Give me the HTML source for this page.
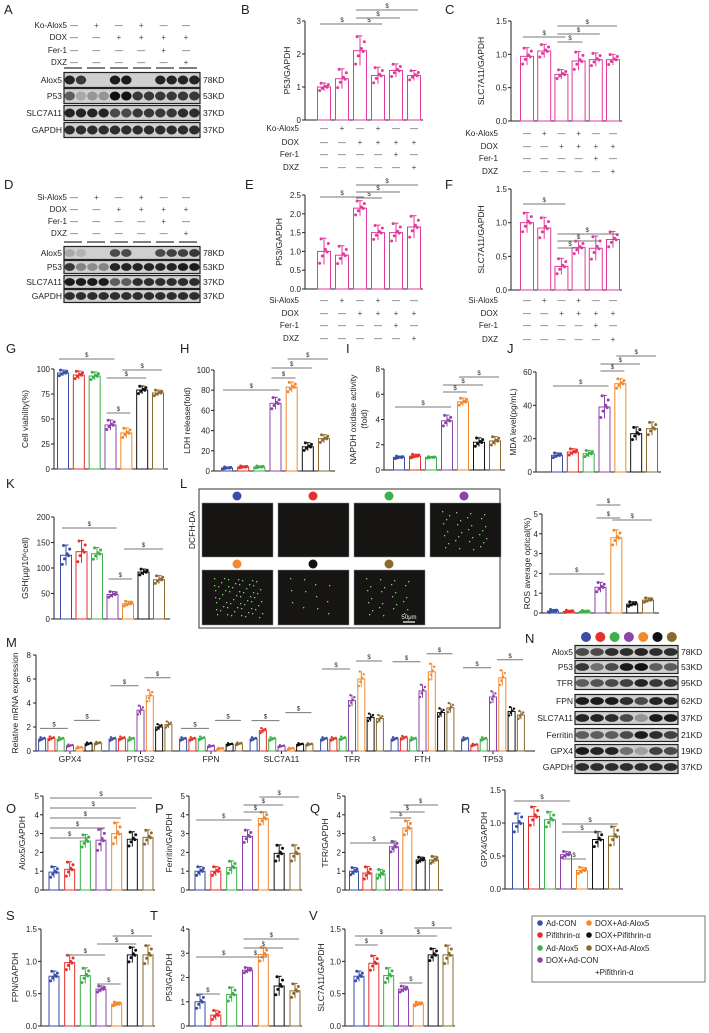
<!DOCTYPE html>
<html><head><meta charset="utf-8">
<style>
html,body{margin:0;padding:0;background:#fff;}
svg{display:block;font-family:"Liberation Sans",sans-serif;}
</style></head>
<body>
<svg id="fig" width="709" height="1033" viewBox="0 0 709 1033"></svg>
<script>
// ---- data ----
const groups7 = ["Ad-CON","Pifithrin-α","Ad-Alox5","DOX+Ad-CON","DOX+Ad-Alox5","DOX+Pifithrin-α","DOX+Ad-Alox5 +Pifithrin-α"];
const bVals = [1.0,1.25,2.1,1.35,1.5,1.35];
const bErrs = [0.12,0.3,0.45,0.25,0.2,0.15];
const cVals = [0.97,1.05,0.7,0.9,0.92,0.92];
const cErrs = [0.13,0.1,0.07,0.14,0.1,0.08];
const eVals = [1.0,0.9,2.15,1.5,1.5,1.65];
const eErrs = [0.35,0.25,0.2,0.2,0.25,0.3];
const fVals = [1.0,0.92,0.35,0.63,0.62,0.75];
const fErrs = [0.15,0.16,0.12,0.1,0.18,0.12];
const gVals = [96,94,93,44,36,79,76];
const gErrs = [3,4,4,5,5,4,3];
const hVals = [3,4,4,67,83,24,32];
const hErrs = [1,1,1,6,5,4,4];
const iVals = [1.0,1.1,1.0,3.9,5.4,2.2,2.3];
const iErrs = [0.1,0.15,0.05,0.45,0.3,0.35,0.35];
const jVals = [10,12,11,39,53,23,26];
const jErrs = [1.5,2,2,7,3,4,4];
const kVals = [125,132,128,48,30,92,77];
const kErrs = [20,22,12,6,5,6,8];
const rosVals = [0.1,0.08,0.08,1.3,3.8,0.45,0.65];
const rosErrs = [0.08,0.06,0.05,0.25,0.4,0.12,0.12];
const mCats = ["GPX4","PTGS2","FPN","SLC7A11","TFR","FTH","TP53"];
const mVals = [
 [1,1.05,1,0.45,0.28,0.6,0.65],
 [1,1.05,1,3.4,4.6,2.0,2.2],
 [1,1,1.05,0.4,0.2,0.55,0.6],
 [1,1.7,1,0.4,0.2,0.55,0.55],
 [1,1,1.05,4.2,6.0,2.8,2.7],
 [1,1.1,1,5.0,6.6,3.2,3.6],
 [1,0.5,1,4.5,6.1,3.3,3.0]];
const oVals = [0.95,1.1,2.6,2.65,3.0,2.7,2.8];
const oErrs = [0.3,0.4,0.35,0.6,0.6,0.4,0.4];
const pVals = [1.0,1.0,1.2,2.85,3.8,1.95,1.95];
const pErrs = [0.25,0.25,0.35,0.35,0.35,0.45,0.45];
const qVals = [1.0,0.9,0.85,2.3,3.3,1.6,1.6];
const qErrs = [0.2,0.35,0.25,0.3,0.4,0.15,0.2];
const rVals = [1.0,1.1,1.05,0.52,0.28,0.75,0.8];
const rErrs = [0.15,0.15,0.12,0.05,0.05,0.12,0.15];
const sVals = [0.77,0.98,0.78,0.57,0.34,1.1,1.1];
const sErrs = [0.08,0.12,0.12,0.05,0.03,0.12,0.15];
const tVals = [1.0,0.45,1.3,2.3,2.95,1.65,1.45];
const tErrs = [0.3,0.2,0.3,0.12,0.3,0.4,0.3];
const vVals = [0.77,0.97,0.78,0.57,0.34,1.1,1.1];
const vErrs = [0.08,0.12,0.12,0.05,0.03,0.1,0.15];

const COLS = ["#3a4ea6","#e5312b","#3cb04a","#8d45ab","#f2892f","#111111","#8a6a2f"];
const MAG = "#e23b9b";
const NS = "http://www.w3.org/2000/svg";
const svg = document.getElementById('fig');

function el(tag, attrs, parent, name, inter){
  const e = document.createElementNS(NS, tag);
  for (const k in attrs) e.setAttribute(k, attrs[k]);
  
  
  (parent || svg).appendChild(e);
  return e;
}
function txt(x,y,s,size,anchor,parent,name,extra){
  const a = Object.assign({x:x,y:y,'font-size':size,'text-anchor':anchor||'start',fill:'#222'}, extra||{});
  const t = el('text', a, parent, name, false);
  t.textContent = s;
  return t;
}
const JX = [-3,-1.2,1,3,-2,2.2];
const JY = [-0.9,-0.35,0.15,0.6,0.95,-0.05];

function chart(p){
  const g = el('g', {}, svg, p.name, false);
  const y = v => p.y0 - v/p.max*(p.y0-p.yT);
  el('line',{x1:p.x,y1:p.yT,x2:p.x,y2:p.y0,stroke:'#222','stroke-width':1},g,'y-axis',false);
  el('line',{x1:p.x,y1:p.y0,x2:p.x1,y2:p.y0,stroke:'#222','stroke-width':1},g,'x-axis',false);
  p.ticks.forEach((t,i)=>{
    el('line',{x1:p.x-3,y1:y(t),x2:p.x,y2:y(t),stroke:'#222'},g,'y-tick',false);
    txt(p.x-4,y(t)+3,p.tl[i],8,'end',g,'y-tick-label');
  });
  const yl = txt(0,0,p.yl,8.5,'middle',g,'y-axis-title');
  yl.setAttribute('transform',`translate(${p.ylx},${(p.y0+p.yT)/2}) rotate(-90)`);
  const n = p.vals.length;
  p.vals.forEach((v,i)=>{
    const cx = p.c1 + (p.c2-p.c1)*i/(n-1);
    const col = p.mono || COLS[i];
    el('rect',{x:cx-p.bw/2,y:y(v),width:p.bw,height:p.y0-y(v),fill:'none',stroke:col,'stroke-width':1},g,'bar',false);
    const e = p.errs[i];
    el('line',{x1:cx,y1:y(v+e),x2:cx,y2:y(Math.max(0,v-e)),stroke:col},g,'error-bar',false);
    el('line',{x1:cx-2.5,y1:y(v+e),x2:cx+2.5,y2:y(v+e),stroke:col},g,'error-cap',false);
    for(let k=0;k<6;k++){
      el('circle',{cx:cx+JX[k]*p.bw/9,cy:y(Math.max(0,v+JY[k]*e)),r:1.5,fill:col},g,'data-point',false);
    }
  });
  (p.sig||[]).forEach(s=>{
    const a = p.c1+(p.c2-p.c1)*s[0]/(n-1), b = p.c1+(p.c2-p.c1)*s[1]/(n-1);
    el('line',{x1:a-4,y1:s[2],x2:b+4,y2:s[2],stroke:'#777','stroke-width':0.9},g,'significance-line',false);
    txt((a+b)/2,s[2]-2,'$',6,'middle',g,'significance-mark');
  });
  return y;
}
function label(x,y,s){ txt(x,y,s,13,'start',svg,'panel-label-'+s); }

function table(rows, syms, lx, ys, c1, c2, nameP){
  const g = el('g',{},svg,nameP,false);
  rows.forEach((r,ri)=>{
    txt(lx,ys[ri]+3,r,8,'end',g,'condition-label');
    syms[ri].forEach((s,i)=>{
      const cx = c1+(c2-c1)*i/(syms[ri].length-1);
      txt(cx,ys[ri]+3,s==='+'?'+':'—',8,'middle',g,'condition-mark',{fill:'#444'});
    });
  });
}
function blot(x,x2,rowsY,h,labels,kd,lanes,intens,nameP){
  const g = el('g',{},svg,nameP,false);
  rowsY.forEach((ry,ri)=>{
    el('rect',{x:x,y:ry-h/2,width:x2-x,height:h,fill:'#cfcfcf',stroke:'#222','stroke-width':1.2},g,'blot-strip',false);
    const w=(x2-x)/lanes;
    for(let l=0;l<lanes;l++){
      const a=intens[ri][l];
      el('ellipse',{cx:x+w*(l+0.5),cy:ry,rx:w*0.46,ry:h*0.3,fill:'#111',opacity:a},g,'blot-band',false);
    }
    txt(x-2,ry+3,labels[ri],8.5,'end',g,'blot-row-label');
    txt(x2+3,ry+3,kd[ri],8.5,'start',g,'blot-kd-label');
  });
}

// ---- A ----
label(4,14,'A');
table(['Ko-Alox5','DOX','Fer-1','DXZ'],
 [['-','+','-','+','-','-'],['-','-','+','+','+','+'],['-','-','-','-','+','-'],['-','-','-','-','-','+']],
 67,[25,37,50,62],74,186,'condition-table-a');
for(let i=0;i<6;i++) el('line',{x1:64+i*23,y1:68,x2:82+i*23,y2:68,stroke:'#333','stroke-width':1.2},svg,'lane-group-line',false);
blot(64,200,[80,96,113,130],15,['Alox5','P53','SLC7A11','GAPDH'],['78KD','53KD','37KD','37KD'],12,
 [[.9,.8,0,0,.95,.95,0,0,.9,.9,.9,.9],[.6,.2,.3,.3,1,1,.8,.8,.8,.8,.8,.8],[.9,.9,.9,.9,.7,.7,.8,.8,.8,.8,.85,.85],[.85,.85,.85,.85,.85,.85,.85,.85,.85,.85,.85,.85]],'western-blot-a');

// ---- B ----
label(241,14,'B');
chart({name:'chart-b',x:305,x1:423,y0:120,yT:21,max:3,ticks:[0,1,2,3],tl:['0','1','2','3'],c1:324,c2:414,bw:13,
 vals:bVals,errs:bErrs,mono:MAG,yl:'P53/GAPDH',ylx:290,sig:[[0,2,24],[2,3,24],[2,4,18],[2,5,10]]});
table(['Ko-Alox5','DOX','Fer-1','DXZ'],
 [['-','+','-','+','-','-'],['-','-','+','+','+','+'],['-','-','-','-','+','-'],['-','-','-','-','-','+']],
 299,[128,142,154,167],324,414,'condition-table-b');

// ---- C ----
label(445,14,'C');
chart({name:'chart-c',x:511,x1:622,y0:121,yT:21,max:1.5,ticks:[0,0.5,1,1.5],tl:['0.0','0.5','1.0','1.5'],c1:527,c2:613,bw:13,
 vals:cVals,errs:cErrs,mono:MAG,yl:'SLC7A11/GAPDH',ylx:484,sig:[[0,2,37],[2,3,42],[2,4,34],[2,5,26]]});
table(['Ko-Alox5','DOX','Fer-1','DXZ'],
 [['-','+','-','+','-','-'],['-','-','+','+','+','+'],['-','-','-','-','+','-'],['-','-','-','-','-','+']],
 498,[133,146,158,171],527,613,'condition-table-c');

// ---- D ----
label(4,189,'D');
table(['Si-Alox5','DOX','Fer-1','DXZ'],
 [['-','+','-','+','-','-'],['-','-','+','+','+','+'],['-','-','-','-','+','-'],['-','-','-','-','-','+']],
 67,[197,209,221,233],74,186,'condition-table-d');
for(let i=0;i<6;i++) el('line',{x1:64+i*23,y1:242,x2:82+i*23,y2:242,stroke:'#333','stroke-width':1.2},svg,'lane-group-line',false);
blot(64,200,[253,267,282,296],13,['Alox5','P53','SLC7A11','GAPDH'],['78KD','53KD','37KD','37KD'],12,
 [[.2,.15,0,0,.7,.7,0,0,.7,.75,.75,.8],[.8,.4,.35,.4,.9,.9,.9,.9,.9,.9,.95,.95],[.95,.95,.95,.95,.6,.6,.85,.85,.85,.85,.85,.85],[.85,.85,.85,.85,.85,.85,.85,.85,.85,.85,.85,.85]],'western-blot-d');

// ---- E ----
label(245,189,'E');
chart({name:'chart-e',x:305,x1:423,y0:289,yT:195,max:2.5,ticks:[0,0.5,1,1.5,2,2.5],tl:['0.0','0.5','1.0','1.5','2.0','2.5'],c1:324,c2:414,bw:13,
 vals:eVals,errs:eErrs,mono:MAG,yl:'P53/GAPDH',ylx:282,sig:[[0,2,197],[2,3,198],[2,4,192],[2,5,185]]});
table(['Si-Alox5','DOX','Fer-1','DXZ'],
 [['-','+','-','+','-','-'],['-','-','+','+','+','+'],['-','-','-','-','+','-'],['-','-','-','-','-','+']],
 299,[300,313,325,338],324,414,'condition-table-e');

// ---- F ----
label(445,189,'F');
chart({name:'chart-f',x:511,x1:622,y0:290,yT:189,max:1.5,ticks:[0,0.5,1,1.5],tl:['0.0','0.5','1.0','1.5'],c1:527,c2:613,bw:13,
 vals:fVals,errs:fErrs,mono:MAG,yl:'SLC7A11/GAPDH',ylx:484,sig:[[0,2,204],[2,3,248],[2,4,241],[2,5,234]]});
table(['Si-Alox5','DOX','Fer-1','DXZ'],
 [['-','+','-','+','-','-'],['-','-','+','+','+','+'],['-','-','-','-','+','-'],['-','-','-','-','-','+']],
 498,[300,313,325,339],527,613,'condition-table-f');

// ---- G H I J ----
label(6,353,'G');
chart({name:'chart-g',x:54,x1:168,y0:469,yT:369,max:100,ticks:[0,25,50,75,100],tl:['0','25','50','75','100'],c1:63,c2:158,bw:11,
 vals:gVals,errs:gErrs,yl:'Cell viability(%)',ylx:28,sig:[[0,3,359],[3,4,413],[3,5,378],[4,6,370]]});
label(180,353,'H');
chart({name:'chart-h',x:214,x1:335,y0:471,yT:370,max:100,ticks:[0,20,40,60,80,100],tl:['0','20','40','60','80','100'],c1:227,c2:324,bw:11,
 vals:hVals,errs:hErrs,yl:'LDH release(fold)',ylx:190,sig:[[0,3,390],[3,4,378],[3,5,368],[4,6,359]]});
label(346,353,'I');
chart({name:'chart-i',x:384,x1:505,y0:470,yT:369,max:8,ticks:[0,2,4,6,8],tl:['0','2','4','6','8'],c1:399,c2:495,bw:11,
 vals:iVals,errs:iErrs,yl:'NAPDH oxidase activity',ylx:356,sig:[[0,3,407],[3,4,392],[3,5,385],[4,6,377]]});
txt(0,0,'(fold)',8.5,'middle',svg,'y-axis-title-2').setAttribute('transform','translate(367,419) rotate(-90)');
label(507,353,'J');
chart({name:'chart-j',x:536,x1:661,y0:472,yT:372,max:60,ticks:[0,20,40,60],tl:['0','20','40','60'],c1:557,c2:652,bw:11,
 vals:jVals,errs:jErrs,yl:'MDA level(pg/mL)',ylx:516,sig:[[0,3,386],[3,4,371],[3,5,364],[4,6,356]]});

// ---- K ----
label(6,488,'K');
chart({name:'chart-k',x:54,x1:170,y0:619,yT:517,max:200,ticks:[0,50,100,150,200],tl:['0','50','100','150','200'],c1:66,c2:159,bw:11,
 vals:kVals,errs:kErrs,yl:'GSH(μg/10⁶cell)',ylx:28,sig:[[0,3,528],[3,4,579],[4,6,549]]});

// ---- L ----
label(180,488,'L');
(function(){
  const g = el('g',{},svg,'fluorescence-panel',false);
  el('rect',{x:199,y:489,width:301,height:139,fill:'#fff',stroke:'#333','stroke-width':1},g,'image-frame',false);
  const cxs=[237,313,389,464];
  const dens=[0,0,0,30,60,12,25];
  for(let i=0;i<7;i++){
    const r=Math.floor(i/4), c=i%4;
    const x=202+c*76, yy= r?570:503;
    el('circle',{cx:cxs[c],cy:r?564:496,r:4.5,fill:COLS[i]},g,'group-marker',false);
    el('rect',{x:x,y:yy,width:71,height:r?55:54,fill:'#161513',stroke:'#888','stroke-width':0.5},g,'microscopy-image',false);
    for(let k=0;k<dens[i];k++){
      const px=x+12+((k*37)%49), py=yy+8+((k*23)%40);
      el('rect',{x:px,y:py,width:1.3,height:1.3,fill:'#7bd36b'},g,'fluorescent-cell',false);
    }
  }
  txt(0,0,'DCFH-DA',8.5,'middle',g,'stain-label').setAttribute('transform','translate(195,530) rotate(-90)');
  txt(409,619,'50μm',6,'middle',g,'scale-bar-label',{fill:'#eee'});
  el('line',{x1:403,y1:622,x2:415,y2:622,stroke:'#fff','stroke-width':1.2},g,'scale-bar',false);
})();
chart({name:'chart-ros',x:542,x1:659,y0:613,yT:514,max:5,ticks:[0,1,2,3,4,5],tl:['0','1','2','3','4','5'],c1:553,c2:648,bw:11,
 vals:rosVals,errs:rosErrs,yl:'ROS average optical(%)',ylx:530,sig:[[0,3,574],[3,4,518],[3,4,505],[4,6,520]]});

// ---- M ----
label(6,647,'M');
(function(){
  const g = el('g',{},svg,'chart-m',false);
  const y0=751, yT=655, max=8, y=v=>y0-v/max*(y0-yT);
  el('line',{x1:36,y1:yT,x2:36,y2:y0,stroke:'#222'},g,'y-axis',false);
  el('line',{x1:36,y1:y0,x2:535,y2:y0,stroke:'#222'},g,'x-axis',false);
  [0,2,4,6,8].forEach(t=>{
    el('line',{x1:33,y1:y(t),x2:36,y2:y(t),stroke:'#222'},g,'y-tick',false);
    txt(31,y(t)+3,String(t),8,'end',g,'y-tick-label');
  });
  txt(0,0,'Relative mRNA expression',8.5,'middle',g,'y-axis-title').setAttribute('transform','translate(18,703) rotate(-90)');
  mCats.forEach((c,gi)=>{
    const gc=70+gi*70.5;
    txt(gc,762,c,8.5,'middle',g,'category-label');
    el('line',{x1:gc,y1:y0,x2:gc,y2:y0+3,stroke:'#222'},g,'x-tick',false);
    mVals[gi].forEach((v,i)=>{
      const cx=gc+(i-3)*9.3, col=COLS[i], e=v*0.1+0.05;
      el('rect',{x:cx-3.5,y:y(v),width:7,height:y0-y(v),fill:'none',stroke:col},g,'bar',false);
      el('line',{x1:cx,y1:y(v+e),x2:cx,y2:y(v-e),stroke:col},g,'error-bar',false);
      for(let k=0;k<5;k++) el('circle',{cx:cx+JX[k]*0.8,cy:y(v+JY[k]*e),r:1.2,fill:col},g,'data-point',false);
    });
    const top=Math.max(...mVals[gi]);
    el('line',{x1:gc-30,y1:y(top)-10,x2:gc-2,y2:y(top)-10,stroke:'#777'},g,'significance-line',false);
    txt(gc-16,y(top)-12,'$',6,'middle',g,'significance-mark');
    el('line',{x1:gc+4,y1:y(top)-18,x2:gc+30,y2:y(top)-18,stroke:'#777'},g,'significance-line',false);
    txt(gc+17,y(top)-20,'$',6,'middle',g,'significance-mark');
  });
})();

// ---- N ----
label(525,643,'N');
for(let i=0;i<7;i++) el('circle',{cx:586+i*14.3,cy:637,r:5,fill:COLS[i]},svg,'group-marker',false);
blot(575,678,[652,667,683,701,718,735,751,767],13,['Alox5','P53','TFR','FPN','SLC7A11','Ferritin','GPX4','GAPDH'],
 ['78KD','53KD','95KD','62KD','37KD','21KD','19KD','37KD'],7,
 [[.7,.7,.85,.85,.9,.85,.85],[.8,.5,.7,.95,1,.6,.6],[.6,.65,.7,.75,.9,.8,.8],[.95,.95,.95,.85,.7,.9,.9],[.9,.9,.85,.7,.3,.95,.95],[.6,.6,.6,.7,.95,.85,.75],[.95,.9,.9,.5,.25,.75,.7],[.85,.85,.85,.85,.85,.85,.85]],'western-blot-n');

// ---- O P Q R ----
label(6,813,'O');
chart({name:'chart-o',x:43,x1:155,y0:890,yT:796,max:5,ticks:[0,1,2,3,4,5],tl:['0','1','2','3','4','5'],c1:54,c2:148,bw:10,
 vals:oVals,errs:oErrs,yl:'Alox5/GAPDH',ylx:25,sig:[[0,2,838],[0,3,828],[0,4,818],[0,5,808],[0,6,798]]});
label(155,813,'P');
chart({name:'chart-p',x:189,x1:302,y0:890,yT:796,max:5,ticks:[0,1,2,3,4,5],tl:['0','1','2','3','4','5'],c1:200,c2:295,bw:10,
 vals:pVals,errs:pErrs,yl:'Ferritin/GAPDH',ylx:172,sig:[[0,3,820],[3,4,812],[3,5,805],[4,6,797]]});
label(310,813,'Q');
chart({name:'chart-q',x:345,x1:443,y0:890,yT:796,max:5,ticks:[0,1,2,3,4,5],tl:['0','1','2','3','4','5'],c1:354,c2:434,bw:9,
 vals:qVals,errs:qErrs,yl:'TFR/GAPDH',ylx:328,sig:[[0,3,843],[3,4,818],[3,5,812],[4,6,805]]});
label(461,813,'R');
chart({name:'chart-r',x:505,x1:623,y0:889,yT:790,max:1.5,ticks:[0,0.5,1,1.5],tl:['0.0','0.5','1.0','1.5'],c1:518,c2:614,bw:11,
 vals:rVals,errs:rErrs,yl:'GPX4/GAPDH',ylx:487,sig:[[0,3,801],[3,4,859],[3,5,832],[3,6,824]]});

// ---- S T V ----
label(6,920,'S');
chart({name:'chart-s',x:41,x1:155,y0:1026,yT:929,max:1.5,ticks:[0,0.5,1,1.5],tl:['0.0','0.5','1.0','1.5'],c1:54,c2:148,bw:10,
 vals:sVals,errs:sErrs,yl:'FPN/GAPDH',ylx:18,sig:[[1,3,955],[3,4,984],[3,5,944],[4,6,936]]});
label(150,920,'T');
chart({name:'chart-t',x:189,x1:302,y0:1026,yT:929,max:4,ticks:[0,1,2,3,4],tl:['0','1','2','3','4'],c1:200,c2:295,bw:10,
 vals:tVals,errs:tErrs,yl:'P53/GAPDH',ylx:172,sig:[[0,1,994],[0,3,957],[3,4,957],[3,5,948],[3,6,939]]});
label(309,920,'V');
chart({name:'chart-v',x:345,x1:455,y0:1026,yT:929,max:1.5,ticks:[0,0.5,1,1.5],tl:['0.0','0.5','1.0','1.5'],c1:359,c2:448,bw:10,
 vals:vVals,errs:vErrs,yl:'SLC7A11/GAPDH',ylx:324,sig:[[0,1,945],[0,3,936],[3,4,983],[3,5,936],[4,6,928]]});

// ---- legend ----
(function(){
  const g = el('g',{},svg,'legend',false);
  el('rect',{x:532,y:916,width:173,height:66,fill:'#fff',stroke:'#555','stroke-width':0.8},g,'legend-box',false);
  const pos=[[537,923],[537,935],[537,948],[537,960],[586,923],[586,935],[586,948]];
  const names=["Ad-CON","Pifithrin-α","Ad-Alox5","DOX+Ad-CON","DOX+Ad-Alox5","DOX+Pifithrin-α","DOX+Ad-Alox5"];
  pos.forEach((p,i)=>{
    el('circle',{cx:p[0]+3,cy:p[1],r:2.8,fill:COLS[i]},g,'legend-marker',false);
    txt(p[0]+9,p[1]+3,names[i],8,'start',g,'legend-entry');
  });
  txt(595,975,'+Pifithrin-α',8,'start',g,'legend-entry');
})();
</script>
</body></html>
